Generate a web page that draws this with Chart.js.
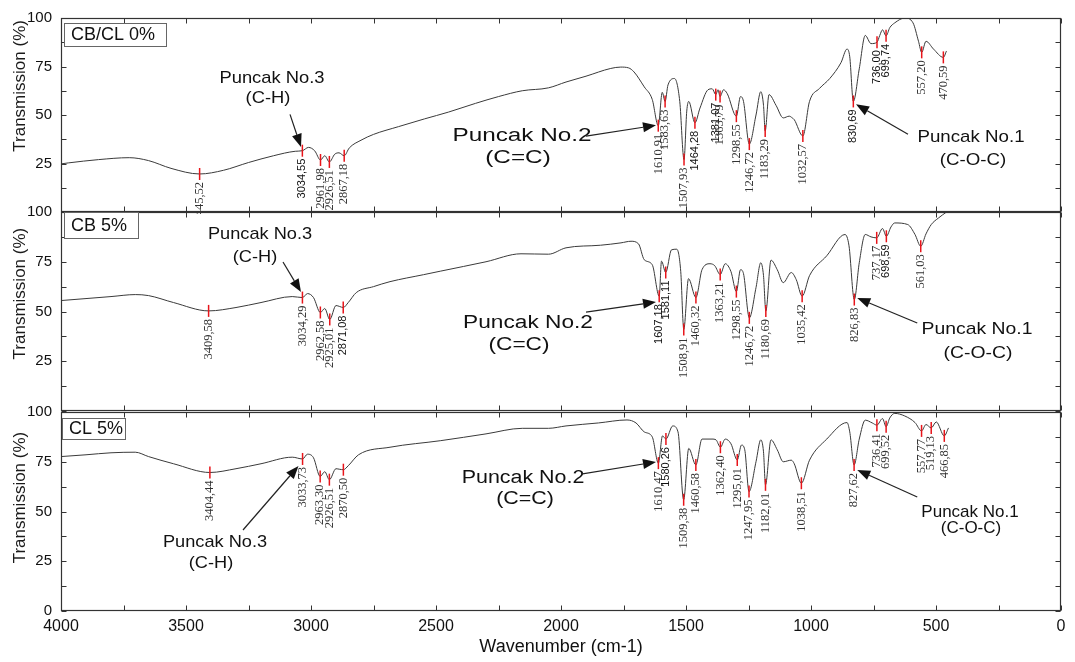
<!DOCTYPE html>
<html><head><meta charset="utf-8">
<script src="https://cdn.jsdelivr.net/npm/chart.js@4.4.1/dist/chart.umd.min.js"></script>
<style>
body{margin:0;background:#fff}
#wrap{position:relative;width:1075px;height:662px;background:#fff}
canvas{position:absolute;left:0;top:0}
</style></head>
<body><div id="wrap">
<canvas id="c1" width="1075" height="662"></canvas>
<canvas id="c2" width="1075" height="662"></canvas>
<canvas id="c3" width="1075" height="662"></canvas>
</div>
<script>
// ---------- data ----------
const panelNames = ['CB/CL 0%', 'CB 5%', 'CL 5%'];
const xTickLabels = [4000, 3500, 3000, 2500, 2000, 1500, 1000, 500, 0];
const yTickLabels = [0, 25, 50, 75, 100];

// Panel 1: CB/CL 0%
const wn1 = [4000,3971,3850,3727,3650,3560,3445.52,3350,3250,3150,3063,3034.55,3010,2985,2961.98,2945,2926.51,2905,2888,2867.18,2847,2800,2750,2650,2546,2450,2342,2250,2155,2050,1980,1900,1801,1761,1730,1708,1667,1635,1610.91,1595,1583.63,1572,1546,1525,1507.93,1497,1489,1464.28,1444,1412,1395,1381.07,1372,1363.79,1350,1335,1298.55,1282,1270,1246.72,1220,1201,1190,1183.29,1168,1140,1111,1087,1075,1067,1032.57,1006,966,925,880,856,845,830.69,807,783,760,736.00,725,714,699.74,685,665,625,592,570,557.20,540,510,470.59,458];
const tr1 = [24.8,25.3,27.0,28.0,26.5,22.5,19.6,21.5,25.5,29.0,31.3,31.6,33.3,31.5,26.8,29.0,25.8,29.8,30.5,29.0,33.0,37.0,40.0,44.0,48.0,51.5,56.0,59.5,62.5,64.0,67.0,70.0,74.0,74.7,74.3,72.2,64.5,58.0,44.5,61.7,57.0,65.5,68.8,57.0,27.0,52.0,57.0,46.0,53.6,63.0,63.5,60.5,63.0,59.5,63.0,61.0,49.4,59.5,57.0,35.0,50.0,62.0,55.0,41.8,60.5,55.0,48.5,49.4,48.5,47.6,39.2,57.0,63.7,68.8,77.0,84.0,80.0,57.0,73.8,91.0,86.8,87.5,91.0,93.9,90.8,95.0,97.5,100.0,97.5,88.0,82.3,88.0,84.0,79.7,83.0];
const peaks1 = [3445.52,3034.55,2961.98,2926.51,2867.18,1610.91,1583.63,1507.93,1464.28,1381.07,1363.79,1298.55,1246.72,1183.29,1032.57,830.69,736.00,699.74,557.20,470.59];

// Panel 2: CB 5%
const wn2 = [4000,3900,3800,3703,3650,3550,3409.58,3300,3200,3075,3034.29,3014,2990,2962.58,2945,2925.01,2900,2885,2871.08,2851,2819,2750,2684,2550,2481,2300,2160,2050,1980,1842,1760,1720,1690,1667,1635,1607.18,1598,1581.11,1558,1537,1521,1508.91,1490,1460.32,1436,1404,1385,1363.21,1343,1320,1298.55,1282,1270,1246.72,1220,1201,1190,1180.69,1160,1135,1111,1079,1059,1035.42,1006,937,864,848,826.83,807,783,760,737.17,714,698.59,680,665,613,584,561.03,540,519,490,458];
const tr2 = [55.5,56.5,57.5,58.5,58.0,54.5,50.3,52.0,54.5,57.5,57.0,59.0,57.0,49.5,51.5,46.0,53.0,52.5,52.0,54.5,59.5,62.5,65.0,68.5,70.3,75.0,79.0,78.8,82.0,83.3,84.5,85.3,84.0,76.0,73.5,57.7,75.3,69.6,81.0,81.3,70.0,41.0,66.5,57.0,71.0,74.0,73.0,68.6,74.0,70.0,60.0,71.0,69.0,46.8,62.0,74.5,68.0,50.2,75.8,71.0,64.5,69.6,66.0,57.7,68.0,78.0,88.7,83.0,56.0,74.5,88.7,87.5,87.0,91.7,87.8,92.5,94.5,93.7,88.7,82.8,89.0,93.7,97.0,100.0];
const peaks2 = [3409.58,3034.29,2962.58,2925.01,2871.08,1607.18,1581.11,1508.91,1460.32,1363.21,1298.55,1246.72,1180.69,1035.42,826.83,737.17,698.59,561.03];

// Panel 3: CL 5%
const wn3 = [4000,3900,3800,3703,3650,3550,3404.44,3300,3200,3075,3033.73,3014,2990,2963.30,2945,2926.51,2900,2885,2870.50,2851,2810,2684,2481,2300,2155,2050,1980,1850,1736,1700,1667,1635,1610.47,1594,1580.26,1553,1532,1509.38,1489,1460.58,1436,1396,1380,1362.40,1343,1320,1295.01,1278,1265,1247.95,1220,1201,1190,1182.01,1160,1135,1111,1079,1067,1038.51,1006,937,856,845,827.62,807,783,755,736.41,714,699.52,685,665,625,584,557.77,540,519.13,499,466.85,450];
const tr3 = [77.6,78.5,79.5,79.8,77.6,74.0,69.6,71.5,74.0,77.3,76.4,78.8,77.0,67.6,70.0,66.0,71.5,71.2,71.0,73.0,78.5,82.3,85.6,89.0,91.8,91.8,93.0,94.5,96.0,94.5,90.0,87.5,74.3,88.0,86.4,93.0,90.0,55.9,81.7,73.4,86.4,86.4,86.0,82.3,86.4,84.0,75.9,83.4,81.0,60.0,75.0,86.0,80.0,63.4,86.0,81.0,75.0,75.8,74.0,64.2,75.8,86.4,94.7,90.0,73.4,86.4,95.9,94.5,93.4,96.7,92.6,97.0,99.3,98.0,94.7,90.5,93.7,92.0,95.0,88.0,92.0];
const peaks3 = [3404.44,3033.73,2963.30,2926.51,2870.50,1610.47,1580.26,1509.38,1460.58,1362.40,1295.01,1247.95,1182.01,1038.51,827.62,736.41,699.52,557.77,519.13,466.85];

// peak labels drawn in a sans face (as in the reference)
const sansPeaks = [3034.55,1464.28,1381.07,830.69,736.00,699.74,2871.08,1607.18,1581.11,698.59,1580.26];

// annotation texts (data coordinates)
const notes1 = [
  {text:'Puncak No.3', at:[3156,69.0], size:17, sx:1.08},
  {text:'(C-H)', at:[3172,58.4], size:17, sx:1.08},
  {text:'Puncak No.2', at:[2156,39.1], size:18, sx:1.35},
  {text:'(C=C)', at:[2172,27.9], size:18, sx:1.35},
  {text:'Puncak No.1', at:[360,38.6], size:17, sx:1.1},
  {text:'(C-O-C)', at:[352,26.9], size:17, sx:1.1}
];
const arrows1 = [{from:[3084,50.3], to:[3040,33.5]},{from:[1900,39.1], to:[1620,44.7]},{from:[612,40.1], to:[820,55.5]}];
const notes2 = [
  {text:'Puncak No.3', at:[3204,88.9], size:17, sx:1.07},
  {text:'(C-H)', at:[3224,77.4], size:17, sx:1.07},
  {text:'Puncak No.2', at:[2132,44.2], size:18, sx:1.26},
  {text:'(C=C)', at:[2168,33.2], size:18, sx:1.26},
  {text:'Puncak No.1', at:[336,41.2], size:17, sx:1.14},
  {text:'(C-O-C)', at:[332,29.1], size:17, sx:1.14}
];
const arrows2 = [{from:[3112,74.9], to:[3040,59.8]},{from:[1900,49.7], to:[1620,54.8]},{from:[575,44.2], to:[815,56.8]}];
const notes3 = [
  {text:'Puncak No.3', at:[3384,34.7], size:17, sx:1.07},
  {text:'(C-H)', at:[3400,24.1], size:17, sx:1.07},
  {text:'Puncak No.2', at:[2152,66.8], size:18, sx:1.19},
  {text:'(C=C)', at:[2144,56.3], size:18, sx:1.19},
  {text:'Puncak No.1', at:[364,49.7], size:17, sx:1.0},
  {text:'(C-O-C)', at:[360,41.4], size:17, sx:1.0}
];
const arrows3 = [{from:[3272,40.7], to:[3050,72.9]},{from:[1920,68.8], to:[1620,74.9]},{from:[575,57.3], to:[815,70.9]}];

// ---------- layout / style ----------
const W = 1075, H = 662, PLOT_L = 61, PLOT_R = 1061;
const SANS = '"Liberation Sans", Arial, sans-serif';
const SERIF = '"Liberation Serif", "Times New Roman", serif';
const panels = [
  {id:'c1', wn:wn1, tr:tr1, peaks:peaks1, notes:notes1, arrows:arrows1, name:panelNames[0], top:15, bottom:212, showX:false, zero:false, box:{dx:3,dy:5,w:102,h:23}, titleT:65},
  {id:'c2', wn:wn2, tr:tr2, peaks:peaks2, notes:notes2, arrows:arrows2, name:panelNames[1], top:212, bottom:411, showX:false, zero:false, box:{dx:3,dy:0,w:74,h:26}, titleT:59},
  {id:'c3', wn:wn3, tr:tr3, peaks:peaks3, notes:notes3, arrows:arrows3, name:panelNames[2], top:412, bottom:611, showX:true, zero:true, box:{dx:1,dy:6,w:63,h:21}, titleT:57}
];

function fmt(v){ return v.toFixed(2).replace('.', ','); }

function drawArrow(ctx, x0, y0, x1, y1){
  const ang = Math.atan2(y1 - y0, x1 - x0), L = 13, hw = 5;
  const bx = x1 - L*Math.cos(ang), by = y1 - L*Math.sin(ang);
  ctx.beginPath(); ctx.moveTo(x0, y0); ctx.lineTo(bx, by); ctx.stroke();
  ctx.beginPath();
  ctx.moveTo(x1, y1);
  ctx.lineTo(bx + hw*Math.sin(ang), by - hw*Math.cos(ang));
  ctx.lineTo(bx - hw*Math.sin(ang), by + hw*Math.cos(ang));
  ctx.closePath(); ctx.fill();
}

function deco(p){
  return {
    id:'deco',
    afterDatasetsDraw(chart){
      const ctx = chart.ctx, a = chart.chartArea, xs = chart.scales.x, ys = chart.scales.y;
      const X = v => xs.getPixelForValue(v), Y = v => ys.getPixelForValue(v);
      ctx.save();
      // frame
      ctx.strokeStyle = '#333'; ctx.lineWidth = 1.2;
      const l = Math.round(a.left)+0.5, r = Math.round(a.right)-0.5, t = Math.round(a.top)+0.5, b = Math.round(a.bottom)-0.5;
      ctx.strokeRect(l, t, r-l, b-t);
      // inward ticks
      ctx.lineWidth = 1;
      ctx.beginPath();
      xs.ticks.forEach(tk => { const px = Math.round(X(tk.value))+0.5; ctx.moveTo(px,t); ctx.lineTo(px,t+5); ctx.moveTo(px,b); ctx.lineTo(px,b-5); });
      ys.ticks.forEach(tk => { const py = Math.round(Y(tk.value))+0.5; ctx.moveTo(l,py); ctx.lineTo(l+5,py); ctx.moveTo(r,py); ctx.lineTo(r-5,py); });
      ctx.stroke();

      // y-axis title
      ctx.save();
      ctx.translate(20, Y(p.titleT)); ctx.rotate(-Math.PI/2);
      ctx.fillStyle = '#1a1a1a'; ctx.font = '17px ' + SANS; ctx.textAlign = 'center'; ctx.textBaseline = 'middle';
      ctx.fillText('Transmission (%)', 0, 0);
      ctx.restore();

      // panel name box
      const bx = a.left + p.box.dx, by = a.top + p.box.dy;
      ctx.fillStyle = '#fff'; ctx.fillRect(bx, by, p.box.w, p.box.h);
      ctx.strokeStyle = '#666'; ctx.lineWidth = 1;
      ctx.strokeRect(Math.round(bx)+0.5, Math.round(by)+0.5, p.box.w, p.box.h);
      ctx.fillStyle = '#111'; ctx.font = '18px ' + SANS; ctx.textAlign = 'left'; ctx.textBaseline = 'middle';
      ctx.fillText(p.name, bx + 7, by + p.box.h/2 + 1);

      // peak markers and labels
      ctx.save();
      ctx.beginPath(); ctx.rect(0, 0, W, a.bottom + 2); ctx.clip();
      p.peaks.forEach(w => {
        const i = p.wn.indexOf(w);
        const px = X(w), py = Y(p.tr[i]);
        ctx.strokeStyle = '#e8141a'; ctx.lineWidth = 1.5;
        ctx.beginPath(); ctx.moveTo(px, py-6); ctx.lineTo(px, py+6); ctx.stroke();
        ctx.save();
        ctx.translate(px, py + 8); ctx.rotate(-Math.PI/2);
        const sans = sansPeaks.includes(w);
        ctx.fillStyle = sans ? '#111' : '#333';
        ctx.font = sans ? '11px ' + SANS : '12.5px ' + SERIF;
        ctx.textAlign = 'right'; ctx.textBaseline = 'middle';
        ctx.fillText(fmt(w), 0, 0);
        ctx.restore();
      });
      ctx.restore();

      // annotation texts
      p.notes.forEach(n => {
        ctx.save();
        ctx.translate(X(n.at[0]), Y(n.at[1])); ctx.scale(n.sx, 1);
        ctx.fillStyle = '#111'; ctx.font = n.size + 'px ' + SANS; ctx.textAlign = 'center'; ctx.textBaseline = 'middle';
        ctx.fillText(n.text, 0, 0);
        ctx.restore();
      });
      // arrows
      ctx.strokeStyle = '#222'; ctx.fillStyle = '#111'; ctx.lineWidth = 1.2;
      p.arrows.forEach(ar => drawArrow(ctx, X(ar.from[0]), Y(ar.from[1]), X(ar.to[0]), Y(ar.to[1])));
      ctx.restore();
    }
  };
}

panels.forEach(p => {
  const pts = p.wn.map((w, i) => ({x:w, y:p.tr[i]})).reverse();
  new Chart(document.getElementById(p.id), {
    type:'line',
    data:{datasets:[{data:pts, borderColor:'#3a3a3a', borderWidth:1, pointRadius:0, cubicInterpolationMode:'monotone', fill:false}]},
    options:{
      responsive:false, animation:false, devicePixelRatio:1,
      layout:{padding:{top:p.top, right:W-PLOT_R, left:0, bottom:0}},
      plugins:{legend:{display:false}, tooltip:{enabled:false}},
      scales:{
        x:{type:'linear', min:0, max:4000, reverse:true, position:'bottom',
           afterFit(s){ s.height = H - p.bottom; },
           grid:{display:false, drawTicks:false}, border:{display:false},
           ticks:{display:p.showX, stepSize:250, autoSkip:false, maxRotation:0, padding:6, color:'#111',
                  font:{family:SANS, size:16},
                  callback:v => xTickLabels.includes(v) ? String(v) : ''},
           title:{display:p.showX, text:'Wavenumber (cm-1)', color:'#111', font:{family:SANS, size:18}, padding:{top:0, bottom:4}}
        },
        y:{type:'linear', min:0, max:100,
           afterFit(s){ s.width = PLOT_L; },
           grid:{display:false, drawTicks:false}, border:{display:false},
           ticks:{stepSize:12.5, autoSkip:false, padding:9, color:'#111', font:{family:SANS, size:15},
                  callback:v => (yTickLabels.includes(v) && (v !== 0 || p.zero)) ? String(v) : ''}
        }
      }
    },
    plugins:[deco(p)]
  });
});
</script>
</body></html>
